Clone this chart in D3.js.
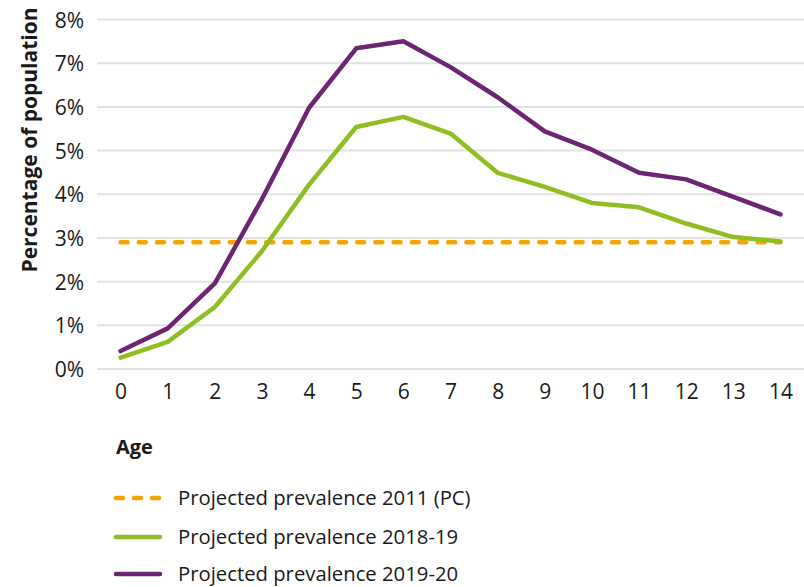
<!DOCTYPE html>
<html><head><meta charset="utf-8">
<script src="https://cdn.jsdelivr.net/npm/d3@7"></script>
<style>
body{margin:0;background:#fff;}
text{font-family:"Open Sans","Noto Sans",sans-serif;fill:#1a1a1a;}
</style></head>
<body>
<svg id="c" width="804" height="587"></svg>
<script>
const ages = [0,1,2,3,4,5,6,7,8,9,10,11,12,13,14];
const yTicks = [0,1,2,3,4,5,6,7,8];
const prev2011 = 2.9;
const prev1819 = [0.26,0.62,1.42,2.7,4.22,5.54,5.77,5.39,4.49,4.17,3.80,3.70,3.33,3.02,2.92];
const prev1920 = [0.41,0.93,1.96,3.89,5.98,7.34,7.50,6.91,6.22,5.44,5.02,4.49,4.34,3.94,3.54];
const seriesNames = ["Projected prevalence 2011 (PC)","Projected prevalence 2018-19","Projected prevalence 2019-20"];
const colors = ["#f5a400","#8fbe22","#6b2572"];
const FONT = '"Open Sans","Noto Sans",sans-serif';

const svg = d3.select("#c");
const x = d3.scalePoint().domain(ages).range([97,804]).padding(0.5);
const y = d3.scaleLinear().domain([0,8]).range([369,19.5]);

svg.append("g").selectAll("line").data(yTicks).join("line")
  .attr("x1",97).attr("x2",804).attr("y1",d=>y(d)).attr("y2",d=>y(d))
  .attr("stroke","#e2e2e2").attr("stroke-width",2);

const ya = svg.append("g").attr("transform","translate(84,0)")
  .call(d3.axisLeft(y).tickValues(yTicks).tickFormat(d=>d+"%").tickSize(0).tickPadding(0));
ya.select(".domain").remove();
ya.selectAll("text").attr("font-size",21).attr("dy","0.36em").style("font-family",FONT).attr("fill","#1a1a1a");

const xa = svg.append("g").attr("transform","translate(0,383)")
  .call(d3.axisBottom(x).tickSize(0).tickPadding(0));
xa.select(".domain").remove();
xa.selectAll("text").attr("font-size",21).attr("dy","0.75em").style("font-family",FONT).attr("fill","#1a1a1a");

svg.append("text").attr("x",116).attr("y",454).attr("font-size",20).attr("font-weight","bold").text("Age");
svg.append("text").attr("transform","translate(37,140) rotate(-90)").attr("text-anchor","middle")
  .attr("font-size",21).attr("font-weight","bold").text("Percentage of population");

const line = d3.line().x((d,i)=>x(ages[i])).y(d=>y(d));

svg.append("path").datum(ages.map(()=>prev2011)).attr("d",line)
  .attr("fill","none").attr("stroke",colors[0]).attr("stroke-width",4.5)
  .attr("stroke-linecap","round").attr("stroke-dasharray","7 11.2");
svg.append("path").datum(prev1819).attr("d",line)
  .attr("fill","none").attr("stroke",colors[1]).attr("stroke-width",4.5).attr("stroke-linecap","round").attr("stroke-linejoin","round");
svg.append("path").datum(prev1920).attr("d",line)
  .attr("fill","none").attr("stroke",colors[2]).attr("stroke-width",4.5).attr("stroke-linecap","round").attr("stroke-linejoin","round");

const lg = svg.append("g");
const rows = [498,537,574];
seriesNames.forEach((n,i)=>{
  const g = lg.append("g").attr("transform",`translate(0,${rows[i]})`);
  const l = g.append("line").attr("x1",116).attr("x2",160).attr("y1",0).attr("y2",0)
    .attr("stroke",colors[i]).attr("stroke-width",4.5).attr("stroke-linecap","round");
  if(i===0) l.attr("stroke-dasharray","7 11");
  g.append("text").attr("x",178).attr("y",0).attr("dy","0.36em").attr("font-size",20.3).text(n);
});
</script>
</body></html>
